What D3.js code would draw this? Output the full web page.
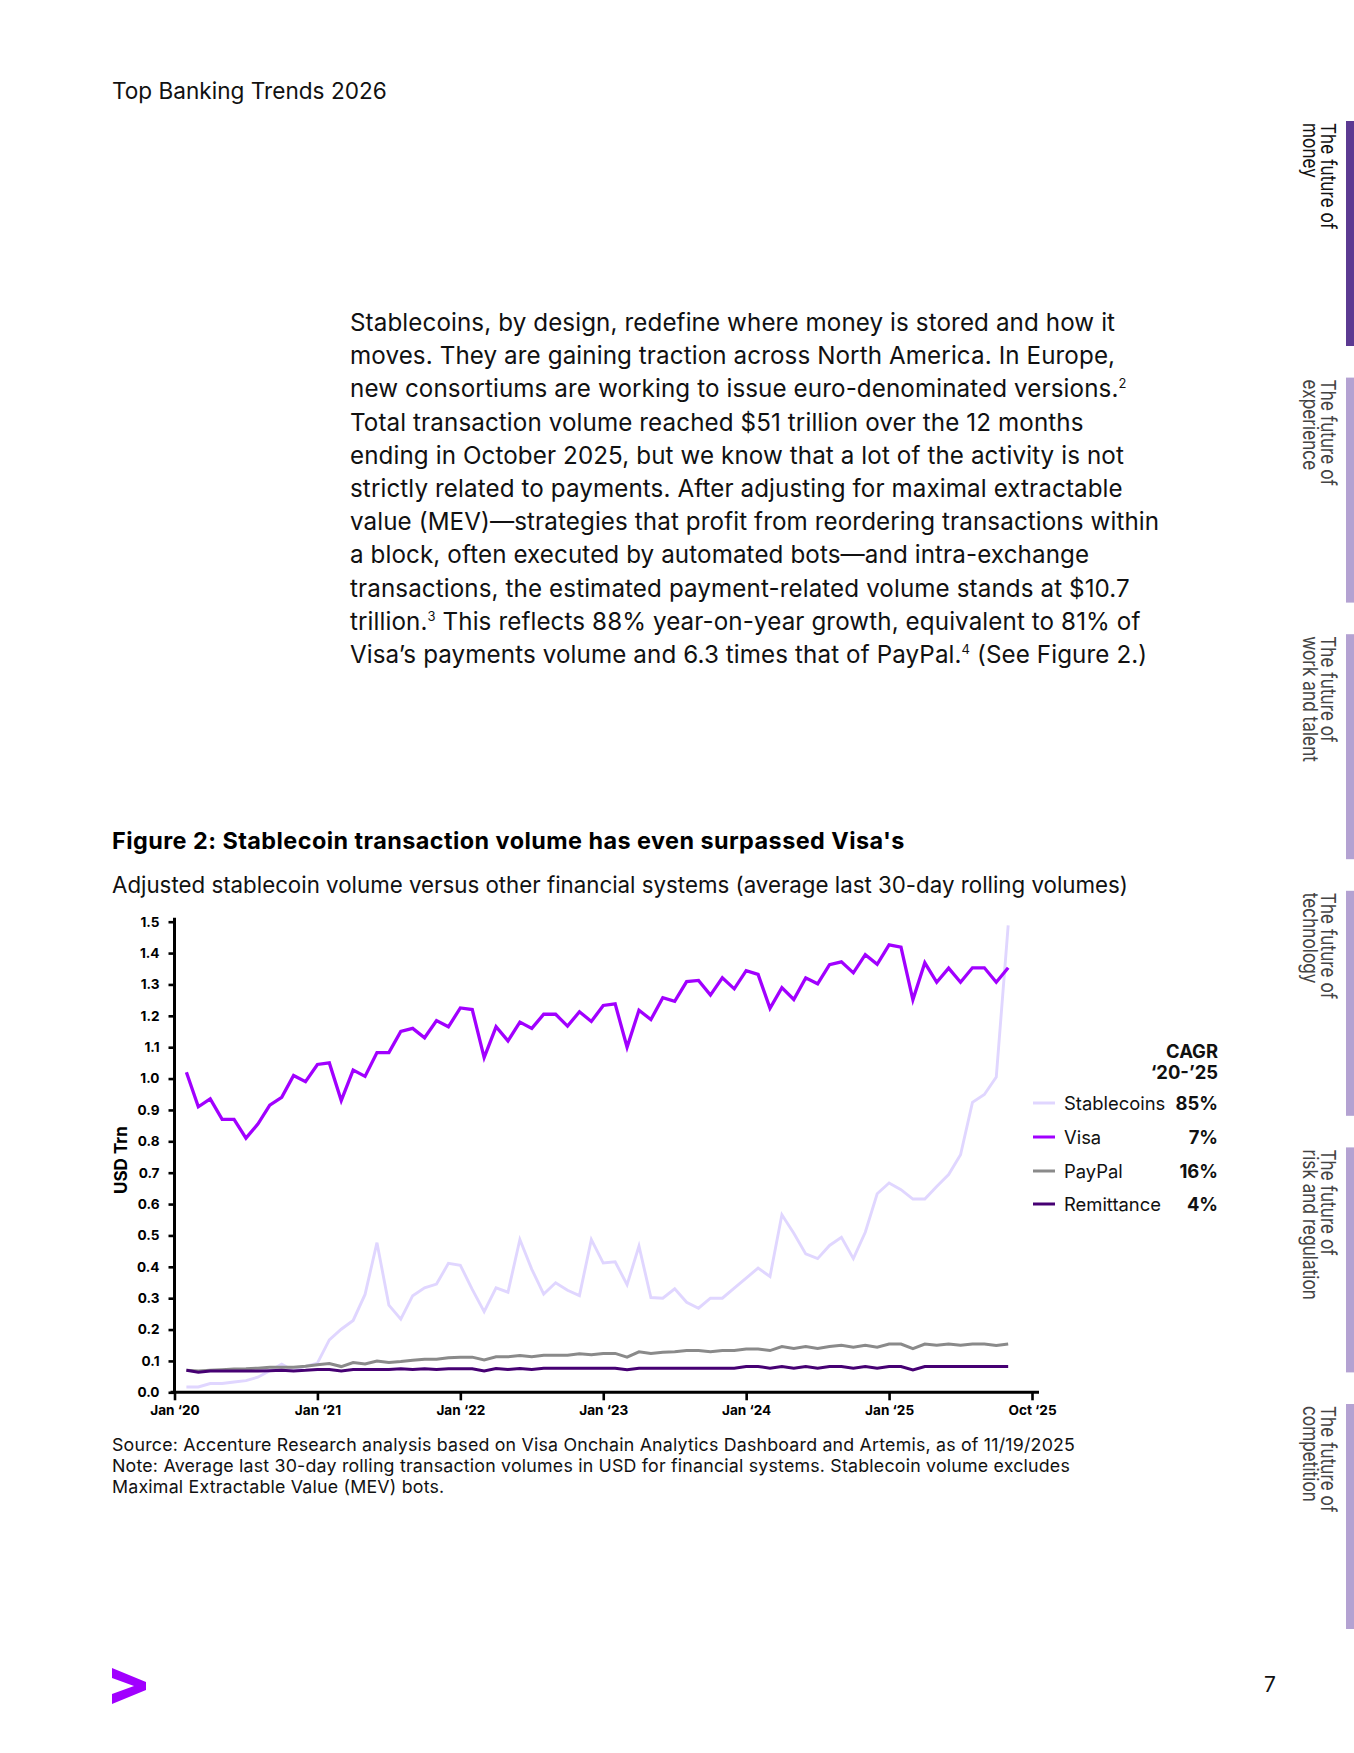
<!DOCTYPE html>
<html>
<head>
<meta charset="utf-8">
<script src="https://cdn.jsdelivr.net/npm/d3@7"></script>
<style>
  html, body { margin: 0; padding: 0; background: #fff; }
  svg { display: block; }
  text { font-family: Inter, "Noto Sans", sans-serif; }
</style>
</head>
<body>
<div id="chart"></div>
<script>
// ---------- DATA ----------
// Monthly points starting Feb 2020 (month index 1) through Nov 2025 (month index 70)
const firstMonthIndex = 1;
const stablecoins = [0.017,0.017,0.028,0.028,0.033,0.037,0.048,0.069,0.09,0.069,0.083,0.093,0.167,0.201,0.229,0.312,0.477,0.278,0.233,0.308,0.333,0.345,0.411,0.405,0.328,0.257,0.333,0.319,0.487,0.392,0.313,0.349,0.325,0.308,0.487,0.412,0.416,0.343,0.466,0.302,0.3,0.33,0.287,0.268,0.3,0.3,0.332,0.364,0.396,0.369,0.566,0.507,0.441,0.426,0.468,0.494,0.426,0.51,0.633,0.667,0.646,0.616,0.616,0.656,0.694,0.757,0.924,0.949,1.005,1.488];
const visa = [1.02,0.91,0.935,0.87,0.87,0.81,0.855,0.915,0.94,1.01,0.99,1.045,1.05,0.93,1.027,1.007,1.083,1.083,1.15,1.16,1.13,1.185,1.165,1.225,1.22,1.067,1.165,1.12,1.18,1.16,1.205,1.205,1.167,1.213,1.182,1.233,1.238,1.1,1.218,1.188,1.258,1.246,1.309,1.313,1.266,1.321,1.286,1.344,1.332,1.224,1.29,1.252,1.321,1.302,1.363,1.372,1.337,1.395,1.364,1.426,1.419,1.251,1.369,1.307,1.352,1.307,1.353,1.353,1.307,1.353];
const paypal = [0.07,0.068,0.07,0.072,0.074,0.075,0.077,0.08,0.08,0.08,0.083,0.088,0.092,0.082,0.095,0.09,0.1,0.095,0.098,0.102,0.105,0.105,0.11,0.112,0.112,0.103,0.113,0.113,0.117,0.113,0.118,0.118,0.118,0.123,0.12,0.124,0.124,0.112,0.129,0.124,0.128,0.129,0.133,0.133,0.129,0.133,0.133,0.138,0.138,0.133,0.146,0.14,0.146,0.14,0.146,0.15,0.144,0.15,0.144,0.154,0.154,0.139,0.154,0.15,0.154,0.15,0.154,0.154,0.149,0.154];
const remittance = [0.07,0.064,0.068,0.068,0.068,0.068,0.068,0.069,0.07,0.068,0.07,0.073,0.073,0.068,0.073,0.073,0.073,0.073,0.075,0.073,0.075,0.073,0.075,0.075,0.075,0.068,0.076,0.073,0.076,0.073,0.077,0.077,0.077,0.077,0.077,0.077,0.077,0.072,0.077,0.077,0.077,0.077,0.077,0.077,0.077,0.077,0.077,0.082,0.082,0.077,0.082,0.077,0.082,0.077,0.082,0.082,0.077,0.082,0.077,0.082,0.082,0.071,0.082,0.082,0.082,0.082,0.082,0.082,0.082,0.082];

const seriesNames = ["Stablecoins", "Visa", "PayPal", "Remittance"];
const cagrLabels = ["85%", "7%", "16%", "4%"];
const xTickMonths = [0, 12, 24, 36, 48, 60, 72];
const xTickLabels = ["Jan \u201820", "Jan \u201821", "Jan \u201822", "Jan \u201823", "Jan \u201824", "Jan \u201825", "Oct \u201825"];
const yTicks = [0, 0.1, 0.2, 0.3, 0.4, 0.5, 0.6, 0.7, 0.8, 0.9, 1.0, 1.1, 1.2, 1.3, 1.4, 1.5];

const headerText = "Top Banking Trends 2026";
const bodyLines = [
  ["Stablecoins, by design, redefine where money is stored and how it"],
  ["moves. They are gaining traction across North America. In Europe,"],
  ["new consortiums are working to issue euro-denominated versions.", "2"],
  ["Total transaction volume reached $51 trillion over the 12 months"],
  ["ending in October 2025, but we know that a lot of the activity is not"],
  ["strictly related to payments. After adjusting for maximal extractable"],
  ["value (MEV)\u2014strategies that profit from reordering transactions within"],
  ["a block, often executed by automated bots\u2014and intra-exchange"],
  ["transactions, the estimated payment-related volume stands at $10.7"],
  ["trillion.", "3", " This reflects 88% year-on-year growth, equivalent to 81% of"],
  ["Visa\u2019s payments volume and 6.3 times that of PayPal.", "4", " (See Figure 2.)"]
];
const figTitle = "Figure 2: Stablecoin transaction volume has even surpassed Visa's";
const figSubtitle = "Adjusted stablecoin volume versus other financial systems (average last 30-day rolling volumes)";
const sourceLines = [
  "Source: Accenture Research analysis based on Visa Onchain Analytics Dashboard and Artemis, as of 11/19/2025",
  "Note: Average last 30-day rolling transaction volumes in USD for financial systems. Stablecoin volume excludes",
  "Maximal Extractable Value (MEV) bots."
];
const tabs = [
  ["The future of", "money"],
  ["The future of", "experience"],
  ["The future of", "work and talent"],
  ["The future of", "technology"],
  ["The future of", "risk and regulation"],
  ["The future of", "competition"]
];
const pageNumber = "7";

// ---------- STYLE ----------
const colors = { "Stablecoins": "#E0D6FF", "Visa": "#A100FF", "PayPal": "#8A8A8A", "Remittance": "#460073" };
const seriesData = { "Stablecoins": stablecoins, "Visa": visa, "PayPal": paypal, "Remittance": remittance };

const W = 1354, H = 1753;
const svg = d3.select("#chart").append("svg").attr("width", W).attr("height", H);

// Header
svg.append("text").attr("x", 112).attr("y", 99).attr("font-size", 22.6).attr("fill", "#111").text(headerText);

// Body paragraph
const body = svg.append("text").attr("font-size", 24.2).attr("letter-spacing", 0.1).attr("fill", "#111");
bodyLines.forEach((parts, i) => {
  const yy = 331 + i * 33.2;
  const ln = body.append("tspan").attr("x", 350).attr("y", yy);
  parts.forEach((p, j) => {
    if (j % 2 === 1) {
      ln.append("tspan").attr("font-size", 13).attr("dy", -9).text(p);
    } else {
      const t = ln.append("tspan").text(p);
      if (j > 0) t.attr("dy", 9);
    }
  });
});

// Figure title & subtitle
svg.append("text").attr("x", 112).attr("y", 849).attr("font-size", 23.4).attr("font-weight", 700)
  .attr("letter-spacing", 0.45).attr("fill", "#000").text(figTitle);
svg.append("text").attr("x", 112).attr("y", 893).attr("font-size", 22.3).attr("fill", "#111").text(figSubtitle);

// ---------- CHART ----------
const x = d3.scaleLinear().domain([0, 72]).range([174.5, 1032]);
const y = d3.scaleLinear().domain([0, 1.5]).range([1392.3, 921.7]);

const g = svg.append("g");

// Lines
const line = d3.line().x((d, i) => x(firstMonthIndex + i)).y(d => y(d)).curve(d3.curveLinear);
const drawOrder = ["Stablecoins", "PayPal", "Remittance", "Visa"];
const widths = { "Stablecoins": 2.9, "Visa": 3.3, "PayPal": 3, "Remittance": 3 };
drawOrder.forEach(name => {
  g.append("path").datum(seriesData[name])
    .attr("fill", "none").attr("stroke", colors[name]).attr("stroke-width", widths[name])
    .attr("stroke-linejoin", "miter").attr("stroke-linecap", "butt")
    .attr("d", line);
});

// Y axis
const yAxis = d3.axisLeft(y).tickValues(yTicks).tickFormat(d3.format(".1f")).tickSize(6).tickPadding(9);
const yg = svg.append("g").attr("transform", `translate(${x(0)},0)`).call(yAxis);
yg.select(".domain").remove();
yg.append("line").attr("x1", 0).attr("x2", 0).attr("y1", y(1.5) - 4).attr("y2", y(0) + 1.5)
  .attr("stroke", "#000").attr("stroke-width", 3);
yg.selectAll(".tick line").attr("stroke", "#000").attr("stroke-width", 2.6);
yg.selectAll(".tick text").attr("font-size", 13.6).attr("font-weight", 700).attr("fill", "#000")
  .attr("font-family", "Inter, sans-serif");

// X axis
const xAxis = d3.axisBottom(x).tickValues(xTickMonths).tickFormat((d, i) => xTickLabels[i]).tickSize(8).tickPadding(5);
const xg = svg.append("g").attr("transform", `translate(0,${y(0)})`).call(xAxis);
xg.select(".domain").remove();
xg.append("line").attr("x1", x(0) - 4).attr("x2", x(72) + 7).attr("y1", 0).attr("y2", 0)
  .attr("stroke", "#000").attr("stroke-width", 3);
xg.selectAll(".tick line").attr("stroke", "#000").attr("stroke-width", 2.6);
xg.selectAll(".tick text").attr("font-size", 13.6).attr("font-weight", 700).attr("fill", "#000")
  .attr("font-family", "Inter, sans-serif");

// Y axis title
svg.append("text").attr("transform", "translate(127,1160) rotate(-90)").attr("text-anchor", "middle")
  .attr("font-size", 17).attr("font-weight", 700).attr("fill", "#000").text("USD Trn");

// Legend
const lg = svg.append("g");
lg.append("text").attr("x", 1218).attr("y", 1058).attr("text-anchor", "end").attr("font-size", 18.4)
  .attr("font-weight", 700).attr("fill", "#111").text("CAGR");
lg.append("text").attr("x", 1218).attr("y", 1079).attr("text-anchor", "end").attr("font-size", 18.4)
  .attr("font-weight", 700).attr("fill", "#111").text("\u201820-\u201925");
const rowY = [1103, 1137, 1171, 1204];
seriesNames.forEach((name, i) => {
  lg.append("line").attr("x1", 1033).attr("x2", 1055).attr("y1", rowY[i]).attr("y2", rowY[i])
    .attr("stroke", colors[name]).attr("stroke-width", 3);
  lg.append("text").attr("x", 1064).attr("y", rowY[i] + 6.5).attr("font-size", 18.4).attr("fill", "#111").text(name);
  lg.append("text").attr("x", 1218).attr("y", rowY[i] + 6.5).attr("text-anchor", "end").attr("font-size", 18.4)
    .attr("font-weight", 700).attr("fill", "#111").text(cagrLabels[i]);
});

// Source / note
const src = svg.append("text").attr("font-size", 17.8).attr("letter-spacing", 0.2).attr("fill", "#111");
sourceLines.forEach((s, i) => {
  src.append("tspan").attr("x", 112).attr("y", 1451 + i * 21.2).text(s);
});

// Side tabs
tabs.forEach((t, i) => {
  const top = 121 + i * 256.6;
  svg.append("rect").attr("x", 1346).attr("y", top).attr("width", 8).attr("height", 225)
    .attr("fill", i === 0 ? "#5C3A92" : "#B4A2D2");
  const tg = svg.append("g").attr("transform", `translate(1321,${top + 2}) rotate(90) scale(0.84,1)`);
  const tt = tg.append("text").attr("font-family", "'Liberation Sans', Arial, sans-serif")
    .attr("font-size", 20.5).attr("fill", i === 0 ? "#111" : "#444");
  tt.append("tspan").attr("x", 0).attr("y", 0).text(t[0]);
  tt.append("tspan").attr("x", 0).attr("y", 18).text(t[1]);
});

// Logo chevron
svg.append("path").attr("d", "M112,1668 L146,1682 L146,1690 L112,1704 L112,1694 L134,1686 L112,1678 Z")
  .attr("fill", "#A100FF");

// Page number
svg.append("text").attr("x", 1270).attr("y", 1692).attr("text-anchor", "middle").attr("font-size", 21)
  .attr("fill", "#111").text(pageNumber);
</script>
</body>
</html>
